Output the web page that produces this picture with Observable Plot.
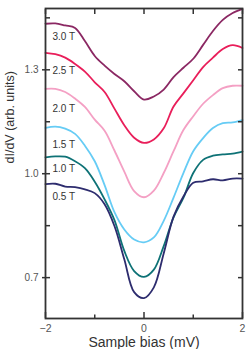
<!DOCTYPE html>
<html><head><meta charset="utf-8">
<script src="https://cdn.jsdelivr.net/npm/d3@7"></script>
<script src="https://cdn.jsdelivr.net/npm/@observablehq/plot@0.6"></script>
<style>body{margin:0;background:#fff;overflow:hidden}</style>
</head><body><div id="chart"></div>
<script>
const bias = [-2,-1.8,-1.6,-1.4,-1.2,-1.0,-0.8,-0.6,-0.4,-0.2,0,0.2,0.4,0.6,0.8,1.0,1.2,1.4,1.6,1.8,2];
const field30 = [1.433,1.434,1.428,1.421,1.383,1.340,1.312,1.288,1.267,1.238,1.214,1.223,1.243,1.279,1.306,1.332,1.372,1.412,1.444,1.464,1.476];
const field25 = [1.349,1.345,1.335,1.317,1.295,1.264,1.236,1.188,1.140,1.104,1.089,1.099,1.131,1.194,1.232,1.270,1.308,1.335,1.360,1.371,1.363];
const field20 = [1.245,1.245,1.236,1.217,1.193,1.156,1.124,1.067,1.006,0.950,0.932,0.951,1.002,1.065,1.126,1.166,1.202,1.227,1.247,1.254,1.254];
const field15 = [1.132,1.136,1.130,1.115,1.081,1.036,0.967,0.889,0.839,0.810,0.802,0.816,0.864,0.931,1.002,1.065,1.103,1.132,1.146,1.148,1.155];
const field10 = [1.047,1.050,1.049,1.036,1.016,0.977,0.926,0.866,0.777,0.719,0.702,0.723,0.791,0.874,0.930,1.002,1.040,1.052,1.056,1.058,1.064];
const field05 = [0.970,0.971,0.963,0.961,0.955,0.944,0.912,0.849,0.753,0.658,0.641,0.672,0.770,0.876,0.934,0.974,0.978,0.984,0.981,0.986,0.986];
const fields = ["3.0 T","2.5 T","2.0 T","1.5 T","1.0 T","0.5 T"];
const series = [field30, field25, field20, field15, field10, field05];
const colors = ["#8B2863","#E91E5A","#F4A0C4","#66CCF5","#0E7276","#2D2C6E"];
const labelX = -1.86;
const labelY = [1.3945, 1.2968, 1.1879, 1.0838, 1.0145, 0.9335];
const xTicks = [-2,-1,0,1,2];
const xMajor = [-2,0,2];
const xMinor = [-1,1];
const yTicks = [0.7,0.85,1.0,1.15,1.3,1.45];
const yMajor = [0.7,1.0,1.3];
const yMinor = [0.85,1.15,1.45];

const rows = fields.flatMap((f,i)=>bias.map((x,j)=>({field:f, x, y:series[i][j]})));
const labels = fields.map((f,i)=>({text:f, x:labelX, y:labelY[i]}));

const chart = Plot.plot({
  width:249, height:349,
  marginLeft:45, marginRight:7, marginTop:8, marginBottom:31,
  x:{domain:[-2,2]},
  y:{domain:[0.582,1.477]},
  color:{domain:fields, range:colors},
  style:{fontFamily:"'Liberation Sans', Arial, sans-serif", background:"#fff", color:"#333"},
  marks:[
    Plot.line(rows,{x:"x", y:"y", z:"field", stroke:"field", strokeWidth:1.8, curve:"catmull-rom"}),
    Plot.text(labels,{x:"x", y:"y", text:"text", textAnchor:"start", fontSize:10, fill:"#333"}),
    Plot.frame({stroke:"#333", strokeWidth:1.8}),
    Plot.axisX(xMajor,{anchor:"bottom", tickSize:-6, fill:"none", stroke:"#333", strokeWidth:1.5, label:null}),
    Plot.axisX(xMinor,{anchor:"bottom", tickSize:-3.5, fill:"none", stroke:"#333", strokeWidth:1.5, label:null}),
    Plot.axisX(xMajor,{anchor:"bottom", tickSize:0, tickPadding:6, fontSize:10.5, fill:"#555", label:null}),
    Plot.axisX(xTicks,{anchor:"top", tickSize:-5, fill:"none", stroke:"#333", strokeWidth:1.5, label:null}),
    Plot.axisY(yMajor,{anchor:"left", tickSize:3, fill:"none", stroke:"#333", strokeWidth:1.5, label:null}),
    Plot.axisY(yTicks,{anchor:"left", tickSize:-5, fill:"none", stroke:"#333", strokeWidth:1.5, label:null}),
    Plot.axisY(yMajor,{anchor:"left", tickSize:0, tickPadding:7, fontSize:10, fill:"#555", tickFormat:d3.format(".1f"), label:null}),
    Plot.axisY(yTicks,{anchor:"right", tickSize:-5, fill:"none", stroke:"#333", strokeWidth:1.5, label:null}),
    Plot.text(["Sample bias (mV)"],{frameAnchor:"bottom", dy:24, lineAnchor:"middle", fontSize:14, fill:"#333", text:d=>d}),
    Plot.text(["dI/dV (arb. units)"],{frameAnchor:"left", dx:-36, rotate:-90, fontSize:12.5, fill:"#333", text:d=>d})
  ]
});
document.getElementById("chart").append(chart);
</script>
</body></html>
